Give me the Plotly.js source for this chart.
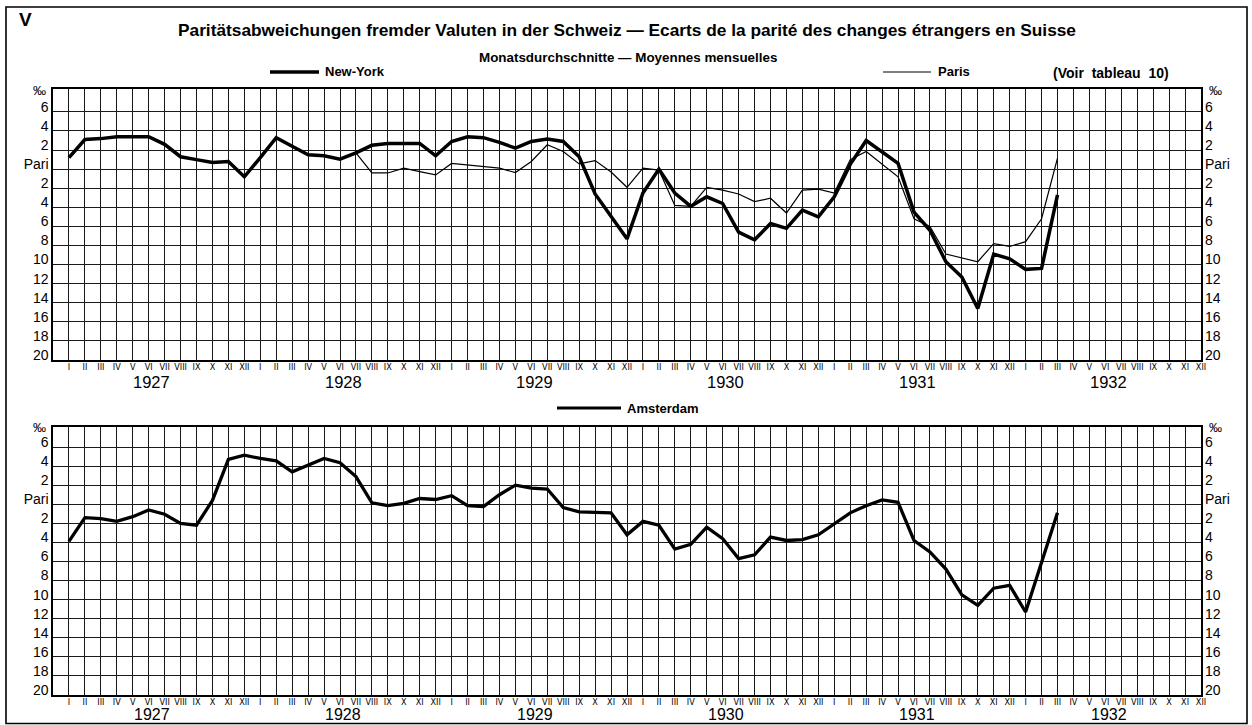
<!DOCTYPE html>
<html>
<head>
<meta charset="utf-8">
<script src="https://cdn.plot.ly/plotly-3.0.1.min.js"></script>
<style>html,body{margin:0;padding:0;background:#fff;}#chart{width:1252px;height:725px;}</style>
</head>
<body>
<div id="chart"></div>
<script>
// Month labels (Jan 1927 .. Dec 1932), roman numerals
const romanMonths = ["I","II","III","IV","V","VI","VII","VIII","IX","X","XI","XII"];
const years = ["1927","1928","1929","1930","1931","1932"];

// Deviation from parity in per mille (positive = above par), Jan 1927 .. Mar 1932
const newYork = [1.2,3.1,3.2,3.4,3.4,3.4,2.6,1.3,1.0,0.7,0.8,-0.8,
  1.2,3.3,2.4,1.5,1.4,1.05,1.7,2.5,2.7,2.7,2.7,1.4,
  2.9,3.4,3.3,2.8,2.2,2.9,3.15,2.9,1.3,-2.6,-5.0,-7.3,
  -2.5,0.0,-2.5,-3.9,-2.9,-3.6,-6.6,-7.4,-5.7,-6.2,-4.3,-5.0,
  -2.9,0.5,3.0,1.8,0.6,-4.5,-6.4,-9.7,-11.3,-14.6,-8.9,-9.4,
  -10.5,-10.4,-2.7];
const paris = [null,null,null,null,null,null,null,null,null,null,null,null,
  null,null,null,null,null,null,1.7,-0.4,-0.4,0.1,-0.25,-0.6,
  0.6,0.45,0.3,0.1,-0.35,0.8,2.55,1.85,0.55,0.9,-0.3,-1.9,
  0.1,-0.1,-3.8,-3.9,-1.9,-2.2,-2.6,-3.4,-3.05,-4.6,-2.2,-2.1,
  -2.5,1.0,1.85,0.55,-0.8,-5.2,-6.0,-8.9,-9.3,-9.7,-7.8,-8.1,
  -7.6,-5.2,1.15];
const amsterdam = [-3.9,-1.4,-1.5,-1.8,-1.3,-0.6,-1.05,-2.0,-2.2,0.4,4.7,5.15,
  4.8,4.55,3.4,4.1,4.8,4.35,2.9,0.15,-0.15,0.1,0.6,0.5,
  0.9,-0.15,-0.25,1.0,2.0,1.7,1.6,-0.35,-0.8,-0.85,-0.9,-3.2,
  -1.8,-2.2,-4.7,-4.2,-2.4,-3.6,-5.7,-5.3,-3.45,-3.8,-3.7,-3.2,
  -2.0,-0.9,-0.15,0.45,0.2,-3.8,-5.0,-6.8,-9.5,-10.6,-8.8,-8.5,
  -11.3,-6.0,-0.9];
const yTickVals = [-20,-18,-16,-14,-12,-10,-8,-6,-4,-2,0,2,4,6];
const yTickText = ["20","18","16","14","12","10","8","6","4","2","Pari","2","4","6"];

const W = 1252, H = 725;
const fx = p => p / W;
const fy = p => 1 - p / H;

const allMonths = [];
const monthText = [];
years.forEach((y, yi) => romanMonths.forEach((m, mi) => { allMonths.push(yi * 12 + mi); monthText.push(m); }));
const dataIdx = newYork.map((_, i) => i);

const FONT = "Liberation Sans Narrow, DejaVu Sans Condensed, Liberation Sans, Arial, sans-serif";
const FONT2 = "Liberation Sans, Arial, sans-serif";

function xAxis(yref) {
  return {
    anchor: yref, domain: [fx(53), fx(1201)], range: [-1, 71],
    tickmode: "array", tickvals: allMonths, ticktext: monthText,
    tickfont: {family: FONT, size: 9, color: "#000"}, ticks: "",
    ticklabelstandoff: -2,
    showgrid: true, gridcolor: "#1a1a1a", gridwidth: 1,
    showline: true, mirror: true, linecolor: "#000", linewidth: 1.6,
    zeroline: false, automargin: false, fixedrange: true
  };
}
function yAxis(xref, dom, top, right, over) {
  const a = {
    anchor: xref, domain: dom, range: [-20, top],
    tickmode: "array", tickvals: yTickVals, ticktext: yTickText,
    tickfont: {family: FONT2, size: 14, color: "#000"}, ticks: "",
    ticklabelshift: -5,
    zeroline: false, automargin: false, fixedrange: true
  };
  if (right) {
    a.side = "right"; a.overlaying = over; a.showgrid = false; a.showline = false;
    a.ticklabelstandoff = 3;
  } else {
    a.showgrid = true; a.gridcolor = "#1a1a1a"; a.gridwidth = 1;
    a.showline = true; a.mirror = true; a.linecolor = "#000"; a.linewidth = 1.6;
  }
  return a;
}

const domTop = [fy(360), fy(89)];
const domBot = [fy(695), fy(427)];

const traces = [
  {x: dataIdx, y: newYork, xaxis: "x", yaxis: "y", mode: "lines", line: {color: "#000", width: 3.5}, hoverinfo: "skip"},
  {x: dataIdx, y: paris, xaxis: "x", yaxis: "y", mode: "lines", line: {color: "#000", width: 1.2}, hoverinfo: "skip", connectgaps: false},
  {x: dataIdx, y: amsterdam, xaxis: "x2", yaxis: "y2", mode: "lines", line: {color: "#000", width: 3.3}, hoverinfo: "skip"},
  {x: [0], y: [null], xaxis: "x", yaxis: "y3", mode: "lines", hoverinfo: "skip"},
  {x: [0], y: [null], xaxis: "x2", yaxis: "y4", mode: "lines", hoverinfo: "skip"}
];

const annotations = [];
function txt(x, y, text, size, opts) {
  annotations.push(Object.assign({xref: "paper", yref: "paper", x: fx(x), y: fy(y), text: text,
    showarrow: false, xanchor: "center", yanchor: "middle",
    font: {family: FONT2, size: size, color: "#000"}}, opts || {}));
}
txt(25, 19, "<b>V</b>", 19);
txt(627, 30, "<b>Paritätsabweichungen fremder Valuten in der Schweiz — Ecarts de la parité des changes étrangers en Suisse</b>", 17.3);
txt(628, 57, "<b>Monatsdurchschnitte — Moyennes mensuelles</b>", 13.4);
txt(323, 72, "<b>New-York</b>", 13, {xanchor: "left"});
txt(936, 72, "<b>Paris</b>", 13, {xanchor: "left"});
txt(1111, 73, "<b>(Voir  tableau  10)</b>", 14, {xanchor: "center"});
txt(625, 408, "<b>Amsterdam</b>", 13, {xanchor: "left"});
txt(48, 90, "‰", 13, {xanchor: "right"});
txt(1207, 90, "‰", 13, {xanchor: "left"});
txt(48, 427, "‰", 13, {xanchor: "right"});
txt(1207, 427, "‰", 13, {xanchor: "left"});
years.forEach((y, k) => {
  annotations.push({xref: "x", yref: "paper", x: 5.2 + 12 * k, y: fy(382), text: y, showarrow: false,
    xanchor: "center", yanchor: "middle", font: {family: FONT2, size: 16.5, color: "#000"}});
  annotations.push({xref: "x2", yref: "paper", x: 5.2 + 12 * k, y: fy(714.5), text: y, showarrow: false,
    xanchor: "center", yanchor: "middle", font: {family: FONT2, size: 16, color: "#000"}});
});

const shapes = [
  {type: "rect", xref: "paper", yref: "paper", x0: fx(6), x1: fx(1247), y0: fy(723.5), y1: fy(7), line: {color: "#000", width: 1.6}},
  {type: "line", xref: "paper", yref: "paper", x0: fx(270), x1: fx(319), y0: fy(72), y1: fy(72), line: {color: "#000", width: 3.4}},
  {type: "line", xref: "paper", yref: "paper", x0: fx(883), x1: fx(931), y0: fy(72), y1: fy(72), line: {color: "#000", width: 1.2}},
  {type: "line", xref: "paper", yref: "paper", x0: fx(557), x1: fx(621), y0: fy(408), y1: fy(408), line: {color: "#000", width: 3.2}}
];

const layout = {
  width: W, height: H, margin: {l: 0, r: 0, t: 0, b: 0, pad: 0},
  paper_bgcolor: "#fff", plot_bgcolor: "#fff", showlegend: false,
  font: {family: FONT2, color: "#000"},
  xaxis: xAxis("y"), xaxis2: xAxis("y2"),
  yaxis: yAxis("x", domTop, 8.4, false),
  yaxis2: yAxis("x2", domBot, 8.1, false),
  yaxis3: yAxis("x", domTop, 8.4, true, "y"),
  yaxis4: yAxis("x2", domBot, 8.1, true, "y2"),
  annotations: annotations, shapes: shapes
};

Plotly.newPlot("chart", traces, layout, {displayModeBar: false, staticPlot: true});
</script>
</body>
</html>
